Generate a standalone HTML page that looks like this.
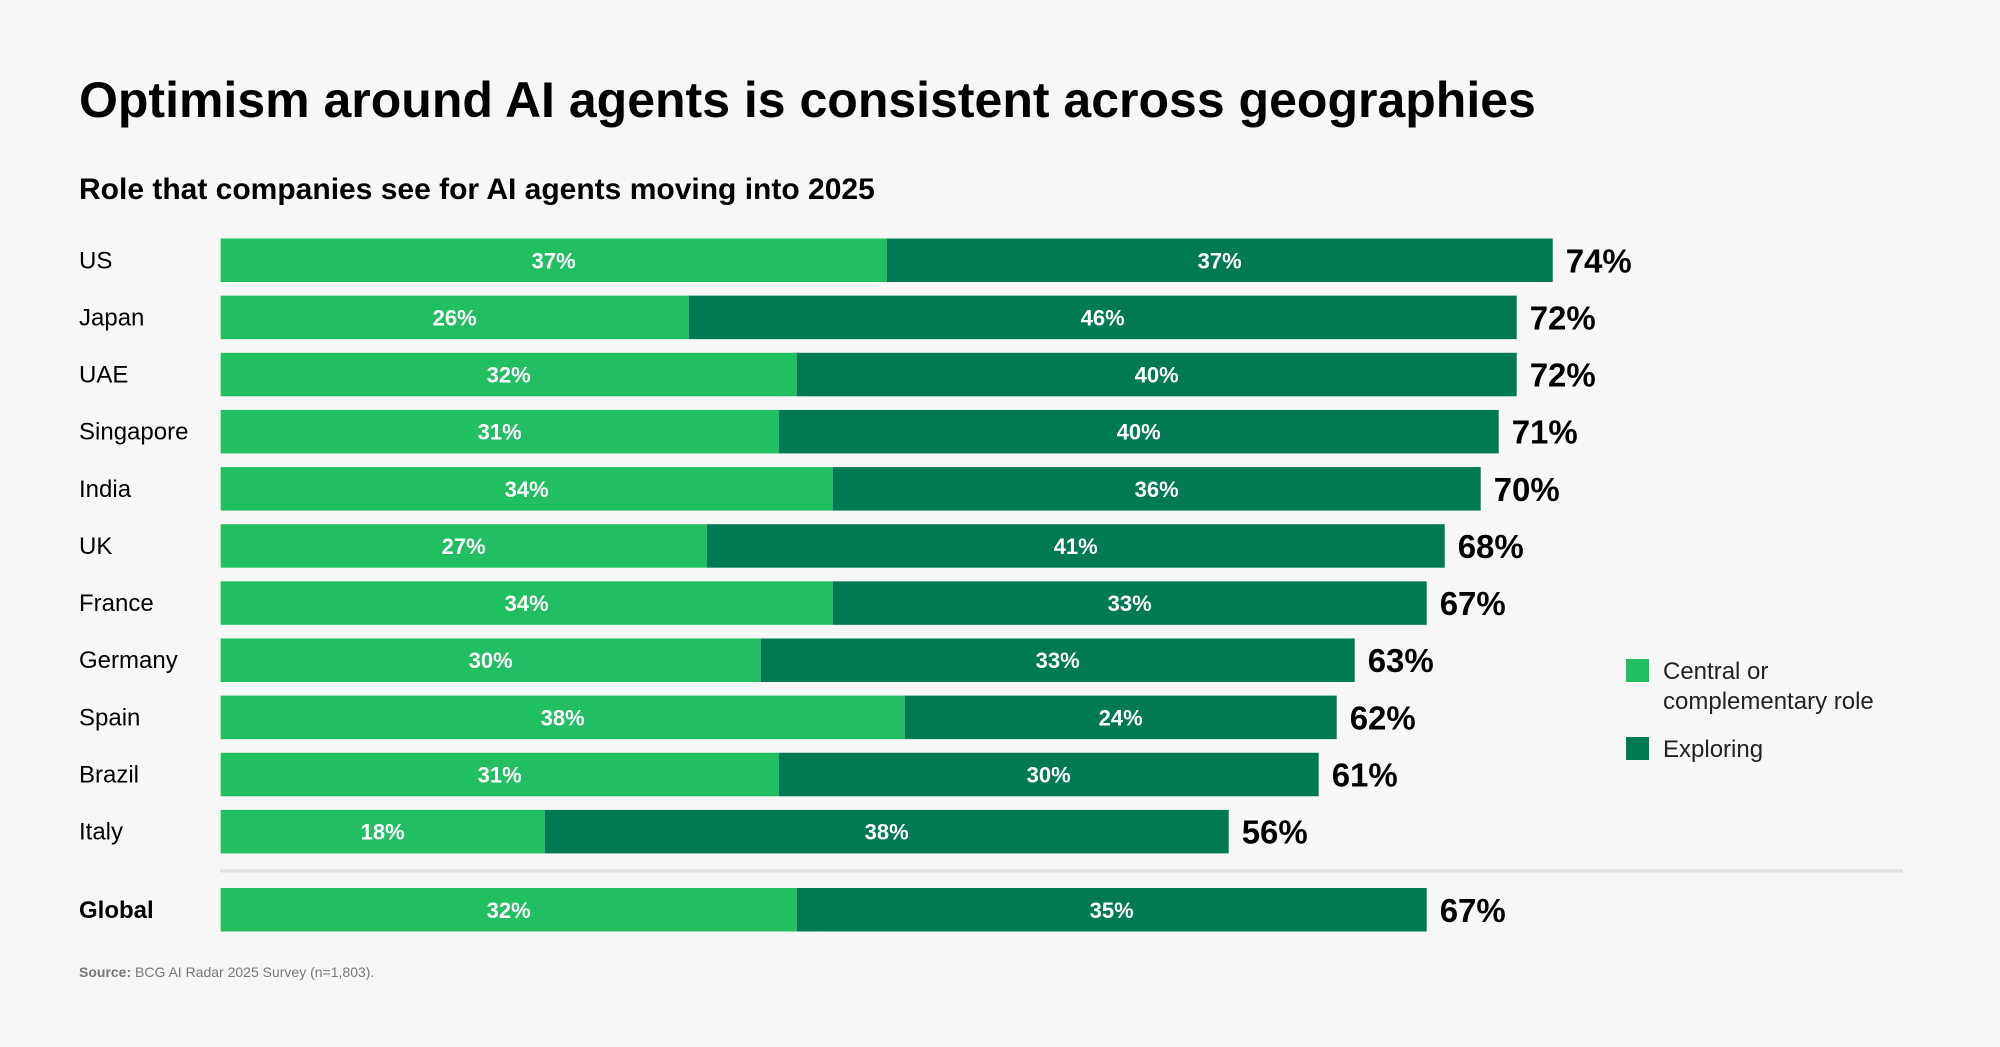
<!DOCTYPE html>
<html><head><meta charset="utf-8"><style>
html,body{margin:0;padding:0;background:#f7f7f7;}
svg{display:block;font-family:"Liberation Sans",sans-serif;}
</style></head><body>
<svg id="chart" width="2000" height="1047" viewBox="0 0 2000 1047" xmlns="http://www.w3.org/2000/svg">
<rect width="2000" height="1047" fill="#f7f7f7"/>
<text x="79" y="117" font-size="50" font-weight="bold" fill="#000">Optimism around AI agents is consistent across geographies</text>
<text x="79" y="199" font-size="30" font-weight="bold" fill="#000">Role that companies see for AI agents moving into 2025</text>
<line x1="220" y1="871" x2="1903" y2="871" stroke="#e2e2e2" stroke-width="3"/>
<g>
<rect x="1626" y="659" width="23" height="23" fill="#22bf62"/>
<text x="1663" y="679" font-size="24" fill="#222">Central or</text>
<text x="1663" y="709" font-size="24" fill="#222">complementary role</text>
<rect x="1626" y="737" width="23" height="23" fill="#007a52"/>
<text x="1663" y="757" font-size="24" fill="#222">Exploring</text>
</g>
<text x="79" y="977" font-size="14" fill="#777"><tspan font-weight="bold">Source:</tspan> BCG AI Radar 2025 Survey (n=1,803).</text>
<g id="bars"></g>
</svg>
<script>
const categories = ["US","Japan","UAE","Singapore","India","UK","France","Germany","Spain","Brazil","Italy","Global"];
const centralValues = [37,26,32,31,34,27,34,30,38,31,18,32];
const exploringValues = [37,46,40,40,36,41,33,33,24,30,38,35];
const totalValues = [74,72,72,71,70,68,67,63,62,61,56,67];

const NS = "http://www.w3.org/2000/svg";
const x0 = 220.7, pxPerPct = 18.0;
function xScale(v){ return x0 + v * pxPerPct; }
function yTop(i){ return i < 11 ? 238.5 + i * 57.14 : 888; }
const barH = 43.5;
const g = document.getElementById("bars");
function mk(tag, attrs){ const e = document.createElementNS(NS, tag); for (const k in attrs) e.setAttribute(k, attrs[k]); return e; }

categories.forEach((cat, i) => {
  const y = yTop(i), cy = y + barH/2;
  const c = centralValues[i], ex = exploringValues[i], t = totalValues[i];
  const lab = mk("text", {x:79, y:cy+8, "font-size":24, fill:"#000", "font-weight": cat==="Global"?"bold":"normal"});
  lab.textContent = cat;
  
  
  g.appendChild(lab);
  const r1 = mk("rect", {x:xScale(0), y:y, width:xScale(c)-xScale(0), height:barH, fill:"#22bf62"});
  
  
  g.appendChild(r1);
  const r2 = mk("rect", {x:xScale(c), y:y, width:xScale(c+ex)-xScale(c), height:barH, fill:"#007a52"});
  
  
  g.appendChild(r2);
  const t1 = mk("text", {x:(xScale(0)+xScale(c))/2, y:cy+8, "font-size":22, "font-weight":"bold", fill:"#fff", "text-anchor":"middle"});
  t1.textContent = c + "%";
  
  
  g.appendChild(t1);
  const t2 = mk("text", {x:(xScale(c)+xScale(c+ex))/2, y:cy+8, "font-size":22, "font-weight":"bold", fill:"#fff", "text-anchor":"middle"});
  t2.textContent = ex + "%";
  
  
  g.appendChild(t2);
  const t3 = mk("text", {x:xScale(c+ex)+13, y:cy+12, "font-size":33, "font-weight":"bold", fill:"#000"});
  t3.textContent = t + "%";
  
  
  g.appendChild(t3);
});
</script>
</body></html>
